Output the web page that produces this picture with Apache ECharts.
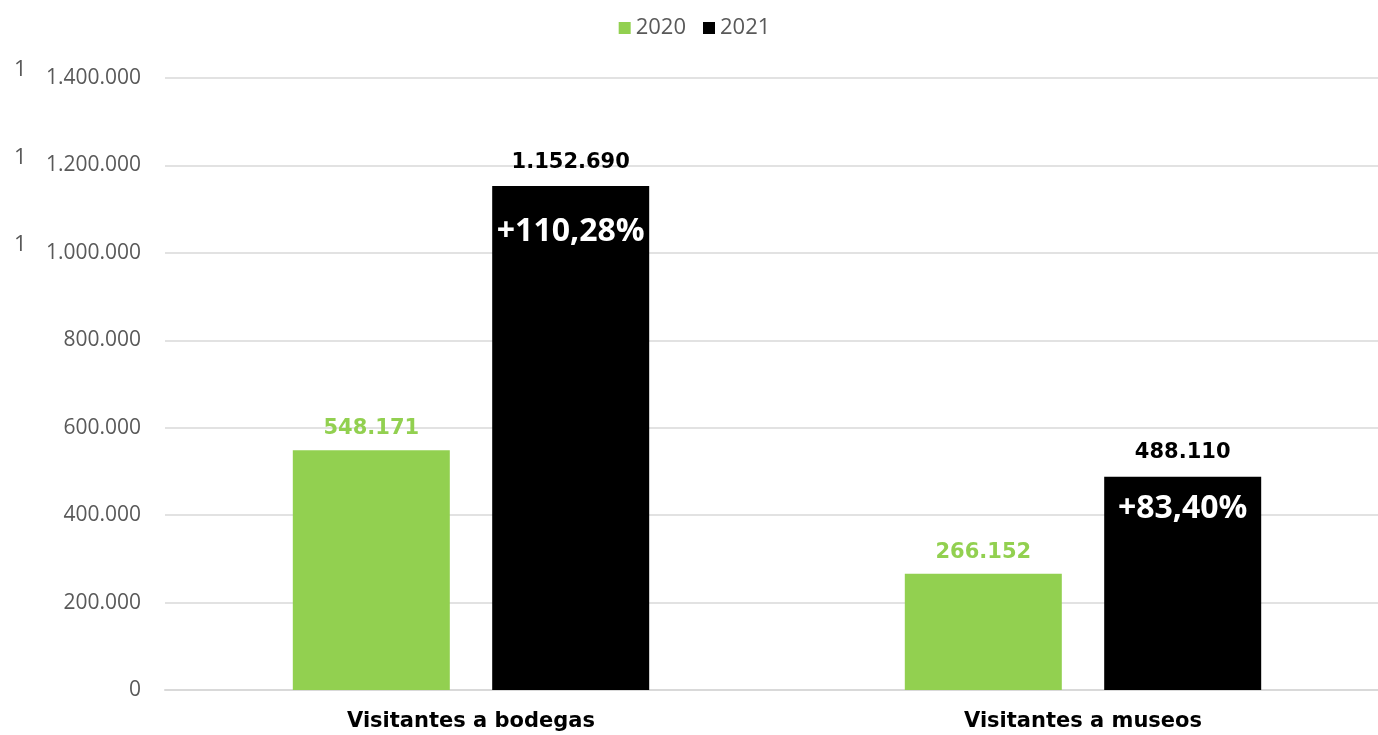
<!DOCTYPE html>
<html>
<head>
<meta charset="utf-8">
<script src="https://cdn.jsdelivr.net/npm/echarts@6/dist/echarts.min.js"></script>
<style>
  html, body { margin: 0; padding: 0; background: #fff; overflow: hidden; }
  /* the original plot area runs a little past the right edge of the picture */
  #chart { width: 1389px; height: 735px; }
</style>
</head>
<body>
<div id="chart"></div>
<script>
  const categories = ['Visitantes a bodegas', 'Visitantes a museos']
  const years = ['2020', '2021']
  const visits2020 = [548171, 266152]
  const visits2021 = [1152690, 488110]
  const growth = ['+110,28%', '+83,40%']
  // ticks that carry the stray "1" on the left in the original
  const markedTicks = [1000000, 1200000, 1400000]

  const fmt = v => String(v).replace(/\B(?=(\d{3})+(?!\d))/g, '.')

  // space between the value and the percentage, per bar
  const pctGap = [100, 72]

  const chart = echarts.init(document.getElementById('chart'))

  const option = {
    animation: false,
    legend: {
      top: 12,
      left: 'center',
      itemWidth: 12,
      itemHeight: 12,
      itemGap: 17,
      icon: 'rect',
      textStyle: { fontFamily: 'Open Sans', fontSize: 22, color: '#595959' },
      data: years
    },
    grid: { left: 165, right: 0, top: 78, bottom: 45 },
    xAxis: {
      type: 'category',
      data: categories,
      axisTick: { show: false },
      axisLine: { lineStyle: { color: '#d9d9d9', width: 2 } },
      axisLabel: {
        margin: 21,
        fontFamily: 'DejaVu Sans',
        fontWeight: 'bold',
        fontSize: 21,
        color: '#000'
      }
    },
    yAxis: {
      type: 'value',
      min: 0,
      max: 1400000,
      interval: 200000,
      axisLine: { show: false },
      axisTick: { show: false },
      splitLine: { lineStyle: { color: '#d9d9d9', width: 1.5 } },
      axisLabel: {
        margin: 24,
        fontFamily: 'Open Sans',
        fontSize: 21,
        color: '#595959',
        formatter: v => markedTicks.includes(v) ? '{one|1}{num|' + fmt(v) + '}' : fmt(v),
        rich: {
          one: { fontFamily: 'Open Sans', fontSize: 22, color: '#595959', width: 32, align: 'left', padding: [0, 0, 16, 0] },
          num: { fontFamily: 'Open Sans', fontSize: 21, color: '#595959' }
        }
      }
    },
    series: [
      {
        name: years[0],
        type: 'bar',
        barWidth: 157,
        barGap: '27%',
        itemStyle: { color: '#92d050' },
        label: {
          show: true,
          position: 'top',
          distance: 11,
          fontFamily: 'DejaVu Sans',
          fontWeight: 'bold',
          fontSize: 21,
          color: '#92d050',
          formatter: p => fmt(p.value)
        },
        data: visits2020
      },
      {
        name: years[1],
        type: 'bar',
        barWidth: 157,
        barGap: '27%',
        itemStyle: { color: '#000' },
        data: visits2021.map((v, i) => ({
          value: v,
          label: {
            show: true,
            position: 'insideTop',
            distance: 0,
            offset: [0, -44],
            formatter: '{v|' + fmt(v) + '}\n{p|' + growth[i] + '}',
            rich: {
              v: { fontFamily: 'DejaVu Sans', fontWeight: 'bold', fontSize: 21, color: '#000', lineHeight: 40 },
              p: { fontFamily: 'Open Sans', fontWeight: 'bold', fontSize: 32, color: '#fff', lineHeight: pctGap[i] }
            }
          }
        }))
      }
    ]
  }

  chart.setOption(option)
</script>
</body>
</html>
